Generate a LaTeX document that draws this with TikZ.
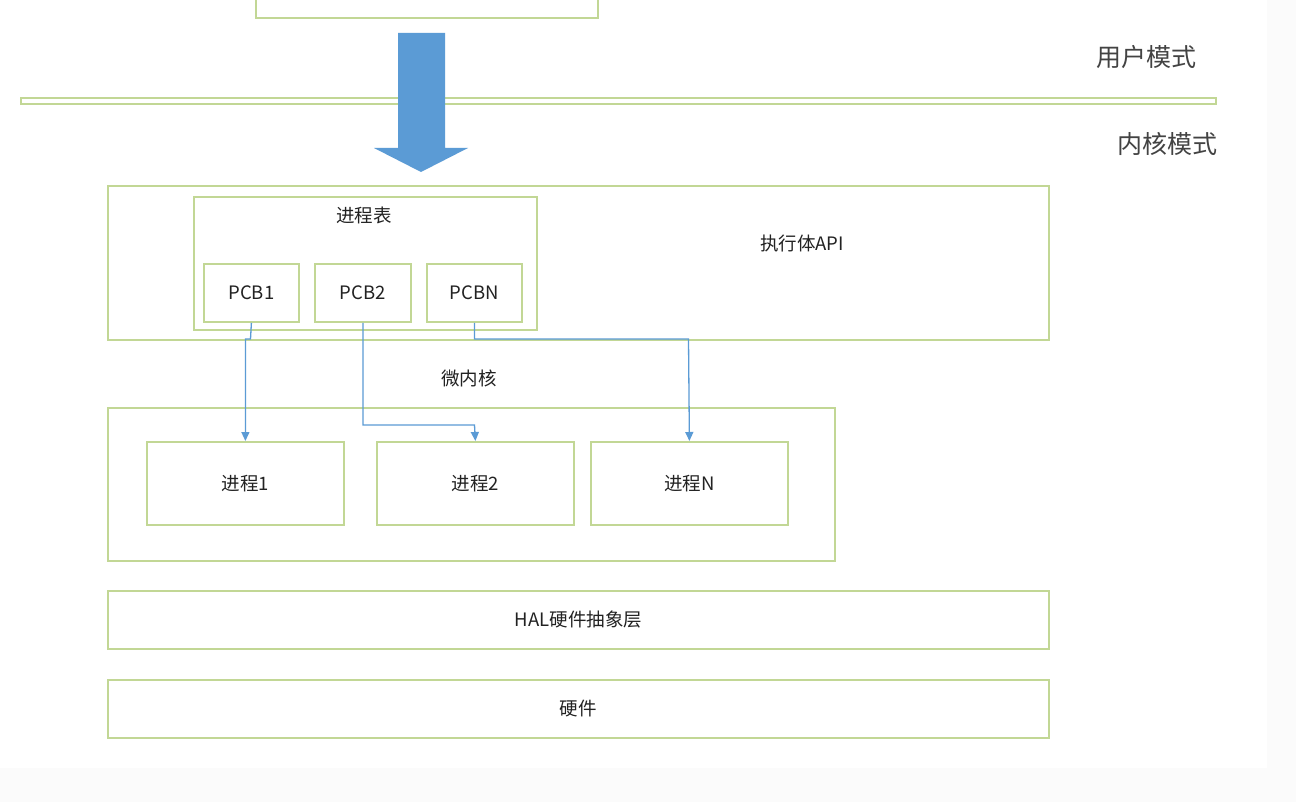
\documentclass[tikz,border=0pt]{standalone}
\usepackage{fontspec}
\setmainfont{Noto Sans CJK SC}
\usetikzlibrary{arrows.meta}
\definecolor{gborder}{HTML}{C2D795}
\definecolor{bluearr}{HTML}{5B9BD5}
\definecolor{txt}{HTML}{222222}
\definecolor{edgegray}{HTML}{FBFBFB}
\tikzset{
  box/.style={draw=gborder, line width=1.8pt, fill=white, inner sep=0pt, anchor=north west, text=txt, font=\fontsize{18}{20}\selectfont},
  lbl/.style={text=txt, inner sep=0pt, font=\fontsize{18.5}{20}\selectfont},
  modelbl/.style={text=txt!85, inner sep=0pt, font=\fontsize{25}{28}\selectfont},
  conn/.style={draw=bluearr, line width=1.3pt, -{Triangle[width=8pt,length=9pt]}},
}
\begin{document}
\begin{tikzpicture}[x=1pt,y=-1pt]
\useasboundingbox (0,0) rectangle (1296,802);
\clip (0,0) rectangle (1296,802);
\fill[white] (0,0) rectangle (1296,802);
\fill[edgegray] (1267,0) rectangle (1296,802);
\fill[edgegray] (0,768) rectangle (1296,802);

% cut-off box at top
\node[box, minimum width=342pt, minimum height=40pt] (topbox) at (255,-23) {};

% separator
\node[box, minimum width=1195pt, minimum height=6pt] (sep) at (20,97) {};

% mode labels
\node[modelbl] (um) at (1146,57) {用户模式};
\node[modelbl] (km) at (1167,144) {内核模式};

% big blue arrow
\fill[bluearr] (398,33) -- (445,33) -- (445,148) -- (468,148) -- (421,172) -- (374,148) -- (398,148) -- cycle;

% executive layer
\node[box, minimum width=941pt, minimum height=154pt] (exec) at (107,185) {};
\node[lbl] (execlbl) at (802,243) {执行体API};
\node[box, minimum width=343pt, minimum height=133pt] (ptable) at (193,196) {};
\node[lbl] (ptlbl) at (364,215) {进程表};
\node[box, minimum width=95pt, minimum height=58pt] (pcb1) at (203,263) {};
\node[lbl] at (pcb1.center) {PCB1};
\node[box, minimum width=96pt, minimum height=58pt] (pcb2) at (314,263) {};
\node[lbl] at (pcb2.center) {PCB2};
\node[box, minimum width=95pt, minimum height=58pt] (pcbn) at (426,263) {};
\node[lbl] at (pcbn.center) {PCBN};

% microkernel
\node[lbl] (mklbl) at (469,378) {微内核};
\node[box, minimum width=727pt, minimum height=153pt] (mk) at (107,407) {};
\node[box, minimum width=197pt, minimum height=83pt] (p1) at (146,441) {};
\node[lbl] at (p1.center) {进程1};
\node[box, minimum width=197pt, minimum height=83pt] (p2) at (376,441) {};
\node[lbl] at (p2.center) {进程2};
\node[box, minimum width=197pt, minimum height=83pt] (pn) at (590,441) {};
\node[lbl] at (pn.center) {进程N};

% HAL and hardware
\node[box, minimum width=941pt, minimum height=58pt] (hal) at (107,590) {};
\node[lbl] at (hal.center) {HAL硬件抽象层};
\node[box, minimum width=941pt, minimum height=58pt] (hw) at (107,679) {};
\node[lbl] at (hw.center) {硬件};

% connectors
\coordinate (k1) at (250.5,339);
\coordinate (k2) at (474.5,425);
\coordinate (k3) at (688.5,339);
\draw[conn] (pcb1.south) -- (k1) -| (p1.north);
\draw[conn] (pcb2.south) |- (k2) -- (p2.north);
\draw[conn] (pcbn.south) |- (k3) -- (pn.north);
\end{tikzpicture}
\end{document}
